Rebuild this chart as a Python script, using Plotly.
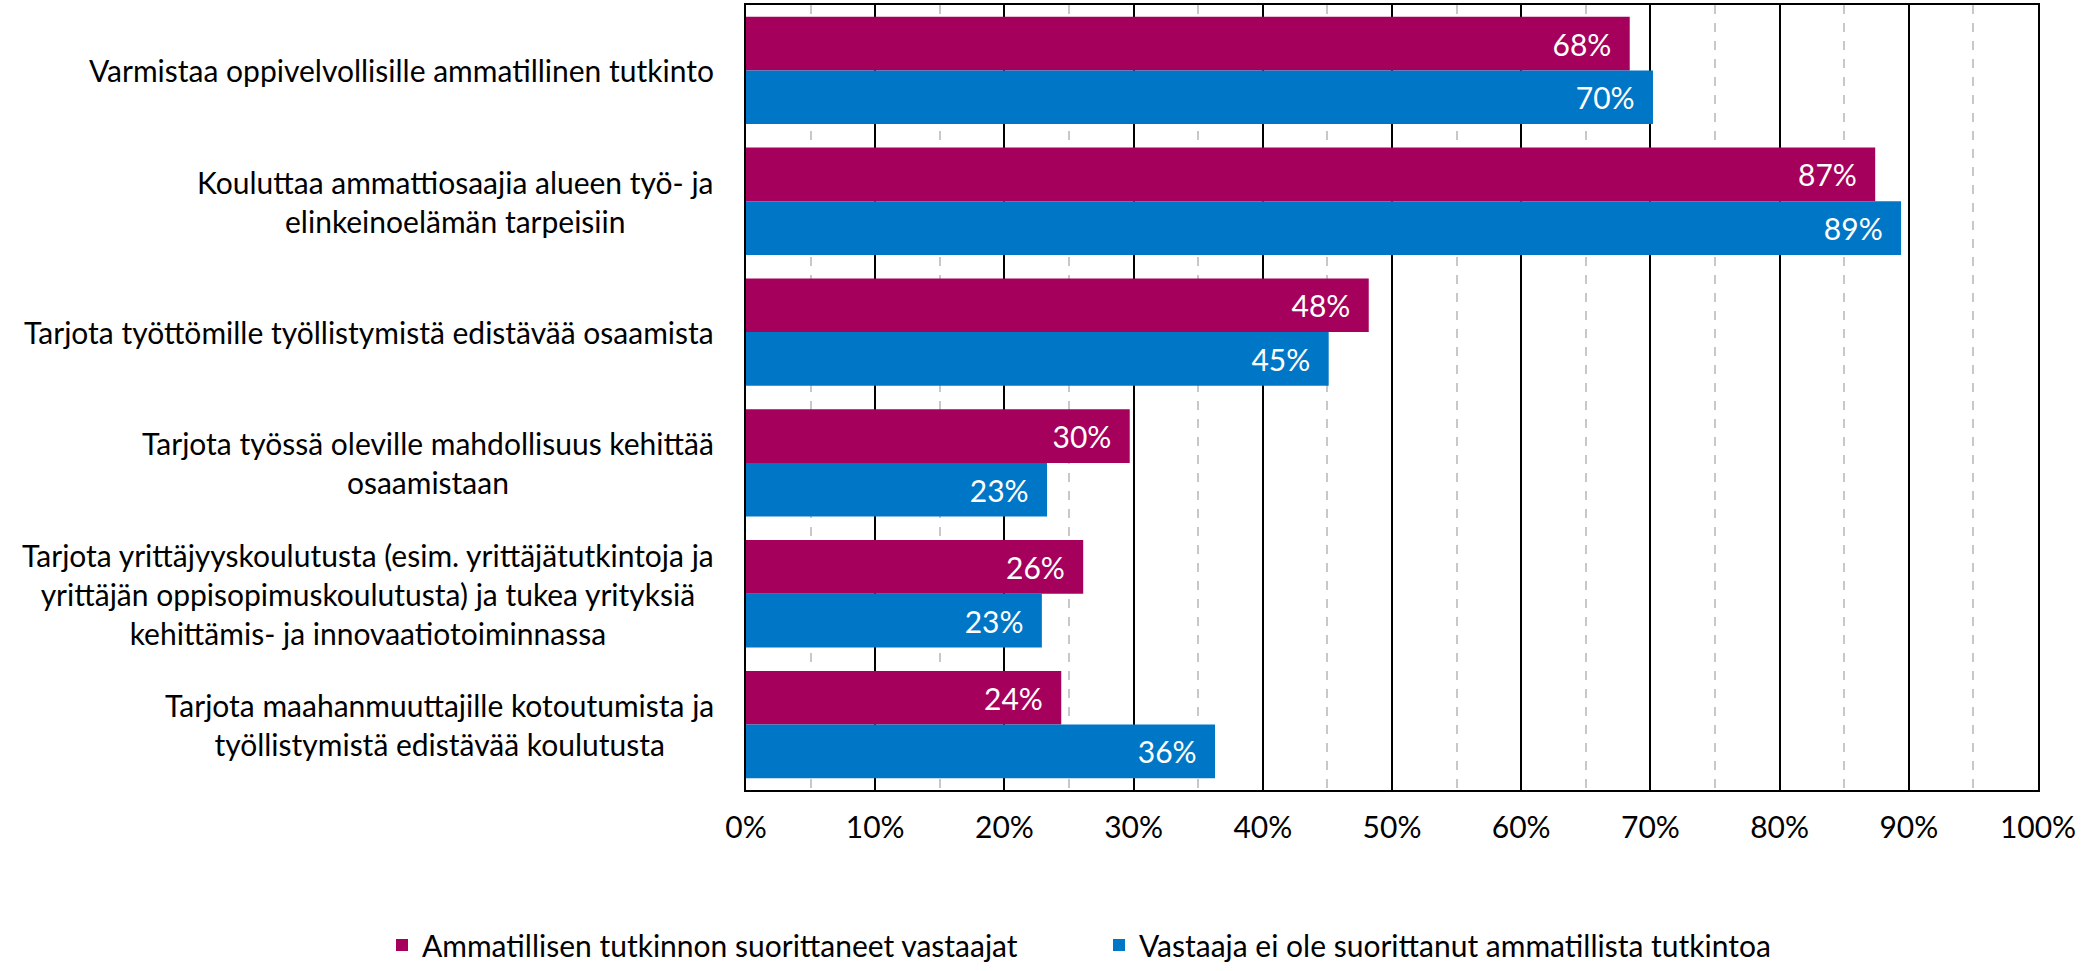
import plotly.graph_objects as go

categories = [
    "Varmistaa oppivelvollisille ammatillinen tutkinto",
    "Kouluttaa ammattiosaajia alueen työ- ja<br>elinkeinoelämän tarpeisiin",
    "Tarjota työttömille työllistymistä edistävää osaamista",
    "Tarjota työssä oleville mahdollisuus kehittää<br>osaamistaan",
    "Tarjota yrittäjyyskoulutusta (esim. yrittäjätutkintoja ja<br>yrittäjän oppisopimuskoulutusta) ja tukea yrityksiä<br>kehittämis- ja innovaatiotoiminnassa",
    "Tarjota maahanmuuttajille kotoutumista ja<br>työllistymistä edistävää koulutusta",
]
series_names = [
    "Ammatillisen tutkinnon suorittaneet vastaajat",
    "Vastaaja ei ole suorittanut ammatillista tutkintoa",
]
values_tutkinto = [0.684, 0.874, 0.482, 0.297, 0.261, 0.244]
values_ei_tutkintoa = [0.702, 0.894, 0.451, 0.233, 0.229, 0.363]
x_ticks = [0, 0.1, 0.2, 0.3, 0.4, 0.5, 0.6, 0.7, 0.8, 0.9, 1.0]
x_tick_labels = ["0%", "10%", "20%", "30%", "40%", "50%", "60%", "70%", "80%", "90%", "100%"]

colors = ["#A6005D", "#0077C6"]
legend_ids = ["legend", "legend2"]
FONT = "Lato"
FS = 30

y_ids = list(range(len(categories)))

fig = go.Figure()
for name, vals, col, lg in zip(series_names, [values_tutkinto, values_ei_tutkintoa], colors, legend_ids):
    fig.add_trace(go.Bar(
        y=y_ids, x=vals, name=name, orientation="h", legend=lg,
        marker=dict(color=col, line=dict(width=0)),
        texttemplate="%{x:.0%}\u00a0\u00a0", textposition="inside",
        insidetextanchor="end",
        textfont=dict(color="white", size=FS, family=FONT),
        cliponaxis=False,
    ))

for i, cat in enumerate(categories):
    fig.add_annotation(
        x=0, xref="paper", xshift=-30, xanchor="right",
        y=i, yref="y", yanchor="middle",
        text=cat, align="center", showarrow=False,
        font=dict(size=FS, family=FONT, color="black"),
    )

legend_style = dict(
    orientation="h", xanchor="left",
    yref="container", xref="container", y=-16 / 971, yanchor="bottom",
    font=dict(size=FS, family=FONT, color="black"),
    itemwidth=30, bgcolor="rgba(0,0,0,0)", tracegroupgap=0,
)

fig.update_layout(
    width=2090, height=971,
    margin=dict(l=746, r=52, t=5, b=181, autoexpand=False),
    paper_bgcolor="white", plot_bgcolor="white",
    barmode="group", bargap=0.18, bargroupgap=0,
    font=dict(family=FONT, size=FS, color="black"),
    legend=dict(legend_style, x=382 / 2090),
    legend2=dict(legend_style, x=1099 / 2090),
    showlegend=True,
)
fig.update_xaxes(
    range=[0, 1], tickvals=x_ticks, ticktext=x_tick_labels,
    showgrid=True, gridcolor="black", gridwidth=1.5,
    minor=dict(dtick=0.05, showgrid=True, gridcolor="#c8c8c8", griddash="dash", gridwidth=1.5),
    showline=True, linecolor="black", linewidth=2, mirror=True,
    ticks="", ticklabelstandoff=10, zeroline=False,
    tickfont=dict(size=FS, family=FONT, color="black"),
)
fig.update_yaxes(
    range=[len(categories) - 0.5, -0.5], showticklabels=False,
    showgrid=False, zeroline=False,
    showline=True, linecolor="black", linewidth=2, mirror=True, ticks="",
)

fig.write_html(
    "out.html",
    config={"displayModeBar": False},
    post_script="document.body.style.margin='0';document.body.style.overflow='hidden';",
)
